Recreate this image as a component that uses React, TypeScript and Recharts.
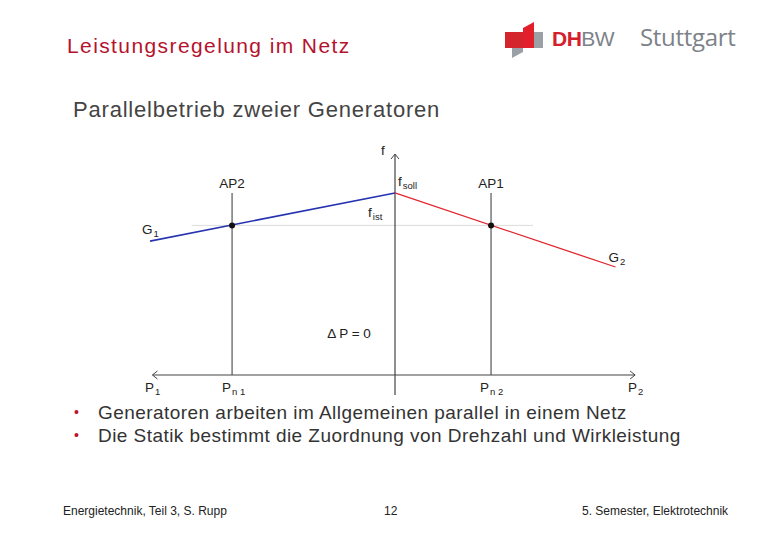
import React from 'react';
import {
  ComposedChart, Line, Scatter, XAxis, YAxis, ReferenceLine, ReferenceDot
} from 'recharts';

// schematic values (P relative to f axis, f in arbitrary units)
const powerRange = [-10, 10];
const freqRange = [-1, 10];
const fSoll = 8.09;
const fIst = 6.65;
const pn1 = -6.65;
const pn2 = 3.92;

const g1Line = [
  { P: -10, f: 5.95 },
  { P: 0, f: fSoll },
];
const g2Line = [
  { P: 0, f: fSoll },
  { P: 9, f: 4.8 },
];
const operatingPoints = [
  { P: pn1, f: fIst },
  { P: pn2, f: fIst },
];

const bullets = [
  'Generatoren arbeiten im Allgemeinen parallel in einem Netz',
  'Die Statik bestimmt die Zuordnung von Drehzahl und Wirkleistung',
];

// labels: text, subscript, anchor point in data units, pixel offset
const labels = [
  { text: 'f', sub: '', P: 0, f: 9.82, dx: -14, dy: 1, anchor: 'start' },
  { text: 'f', sub: 'soll', P: 0, f: fSoll, dx: 3, dy: -7, anchor: 'start' },
  { text: 'f', sub: 'ist', P: 0, f: fIst, dx: -27, dy: -8, anchor: 'start' },
  { text: 'AP2', sub: '', P: pn1, f: fSoll, dx: 0, dy: -5, anchor: 'middle' },
  { text: 'AP1', sub: '', P: pn2, f: fSoll, dx: 0, dy: -5, anchor: 'middle' },
  { text: 'G', sub: '1', P: -10, f: 5.95, dx: -8, dy: -7, anchor: 'start' },
  { text: 'G', sub: '2', P: 9, f: 4.8, dx: -7, dy: -5, anchor: 'start' },
  { text: '\u0394 P = 0', sub: '', P: 0, f: 0, dx: -46, dy: -37, anchor: 'middle' },
  { text: 'P', sub: '1', P: -10, f: 0, dx: -5, dy: 17, anchor: 'start' },
  { text: 'P', sub: 'n 1', P: pn1, f: 0, dx: -10, dy: 17, anchor: 'start' },
  { text: 'P', sub: 'n 2', P: pn2, f: 0, dx: -11, dy: 17, anchor: 'start' },
  { text: 'P', sub: '2', P: 10, f: 0, dx: -12, dy: 17, anchor: 'start' },
];

const FONT = '"Liberation Sans", Arial, sans-serif';

function ArrowLine(props: any) {
  const { x1, y1, x2, y2, stroke } = props;
  const h = 4;
  const paths: string[] = [];
  if (x1 === x2) {
    // vertical, head at top
    const top = Math.min(y1, y2);
    paths.push(`M${x1 - h},${top + h + 1} L${x1},${top} L${x1 + h},${top + h + 1}`);
  } else {
    const l = Math.min(x1, x2);
    const r = Math.max(x1, x2);
    paths.push(`M${l + h + 1},${y1 - h} L${l},${y1} L${l + h + 1},${y1 + h}`);
    paths.push(`M${r - h - 1},${y1 - h} L${r},${y1} L${r - h - 1},${y1 + h}`);
  }
  return (
    <g>
      <line x1={x1} y1={y1} x2={x2} y2={y2} stroke={stroke} strokeWidth={1.2} />
      {paths.map((d, i) => (
        <path key={i} d={d} fill="none" stroke={stroke} strokeWidth={1} />
      ))}
    </g>
  );
}

function makeLabel(l: any) {
  return (props: any) => (
    <text
      x={props.cx + l.dx}
      y={props.cy + l.dy}
      textAnchor={l.anchor}
      fontFamily={FONT}
      fontSize={13.5}
      fill="#222"
    >
      {l.text}
      {l.sub && (
        <tspan fontSize={9.5} dx={1} dy={3}>
          {l.sub}
        </tspan>
      )}
    </text>
  );
}

function Logo() {
  return (
    <div style={{ position: 'absolute', left: 500, top: 18, width: 245, height: 44 }}>
      <svg width={48} height={44} style={{ position: 'absolute', left: 0, top: 0 }}>
        <polygon points="5,14 23,14 23,30 5,30" fill="#d4242c" />
        <polygon points="23,14 43,14 43,30 23,30" fill="#9aa0a6" />
        <polygon points="23,10 34,4 34,30 23,30" fill="#e2202c" />
        <polygon points="12,30 23,30 23,34 12,40" fill="#9aa0a6" />
      </svg>
      <div
        style={{
          position: 'absolute', left: 52, top: 10, fontFamily: FONT, fontSize: 21,
          lineHeight: 1, letterSpacing: -0.5,
        }}
      >
        <span style={{ color: '#d4202c', fontWeight: 'bold' }}>DH</span>
        <span style={{ color: '#7d8288' }}>BW</span>
      </div>
      <div
        style={{
          position: 'absolute', left: 140, top: 7, fontFamily: '"Open Sans", sans-serif',
          fontSize: 24, lineHeight: 1, color: '#7d8288', letterSpacing: -0.3,
        }}
      >
        Stuttgart
      </div>
    </div>
  );
}

export default function App() {
  return (
    <div
      style={{
        position: 'absolute', left: 0, top: 0, width: 780, height: 540,
        background: '#fff', overflow: 'hidden', fontFamily: FONT,
      }}
    >
      <div
        style={{
          position: 'absolute', left: 67, top: 35, fontSize: 21, lineHeight: 1,
          color: '#b5122e', letterSpacing: 1.4, whiteSpace: 'nowrap',
        }}
      >
        Leistungsregelung im Netz
      </div>
      <Logo />
      <div
        style={{
          position: 'absolute', left: 73, top: 99, fontSize: 22, lineHeight: 1,
          color: '#444', letterSpacing: 0.8, whiteSpace: 'nowrap',
        }}
      >
        Parallelbetrieb zweier Generatoren
      </div>

      <div style={{ position: 'absolute', left: 0, top: 0 }}>
        <ComposedChart
          width={780}
          height={540}
          margin={{ top: 150, right: 140, bottom: 142.5, left: 150 }}
        >
          <XAxis type="number" dataKey="P" domain={powerRange} hide allowDataOverflow />
          <YAxis type="number" dataKey="f" domain={freqRange} hide allowDataOverflow />
          <ReferenceLine
            segment={[{ x: -8.3, y: fIst }, { x: 5.63, y: fIst }]}
            stroke="#dcdcdc"
            strokeWidth={1}
          />
          <ReferenceLine
            segment={[{ x: pn1, y: 0 }, { x: pn1, y: fSoll }]}
            stroke="#555"
            strokeWidth={1.2}
          />
          <ReferenceLine
            segment={[{ x: pn2, y: 0 }, { x: pn2, y: fSoll }]}
            stroke="#555"
            strokeWidth={1.2}
          />
          <ReferenceLine
            segment={[{ x: 0, y: -0.89 }, { x: 0, y: 9.82 }]}
            stroke="#444"
            shape={(p: any) => <ArrowLine {...p} stroke="#444" />}
          />
          <ReferenceLine
            segment={[{ x: -9.9, y: 0 }, { x: 9.8, y: 0 }]}
            stroke="#444"
            shape={(p: any) => <ArrowLine {...p} stroke="#444" />}
          />
          <Line
            data={g1Line}
            dataKey="f"
            stroke="#2633b0"
            strokeWidth={1.6}
            dot={false}
            isAnimationActive={false}
          />
          <Line
            data={g2Line}
            dataKey="f"
            stroke="#e0262e"
            strokeWidth={1.3}
            dot={false}
            isAnimationActive={false}
          />
          <Scatter data={operatingPoints} fill="#111" isAnimationActive={false} shape={(p: any) => (
            <circle cx={p.cx} cy={p.cy} r={3} fill="#111" />
          )} />
          {labels.map((l, i) => (
            <ReferenceDot key={i} x={l.P} y={l.f} r={0} shape={makeLabel(l)} />
          ))}
        </ComposedChart>
      </div>

      {bullets.map((b, i) => (
        <div
          key={i}
          style={{ position: 'absolute', left: 74, top: 403 + i * 23, fontSize: 19, lineHeight: 1, color: '#333' }}
        >
          <span style={{ color: '#c0102e', fontSize: 14, position: 'relative', top: -2 }}>{'\u2022'}</span>
          <span style={{ position: 'absolute', left: 24, whiteSpace: 'nowrap', letterSpacing: 0.45 }}>{b}</span>
        </div>
      ))}

      <div style={{ position: 'absolute', left: 63, top: 505, fontSize: 12, lineHeight: 1, color: '#222', whiteSpace: 'nowrap' }}>
        Energietechnik, Teil 3, S. Rupp
      </div>
      <div style={{ position: 'absolute', left: 384, top: 505, fontSize: 12, lineHeight: 1, color: '#222' }}>
        12
      </div>
      <div style={{ position: 'absolute', left: 582, top: 505, fontSize: 12, lineHeight: 1, color: '#222', whiteSpace: 'nowrap' }}>
        5. Semester, Elektrotechnik
      </div>
    </div>
  );
}
